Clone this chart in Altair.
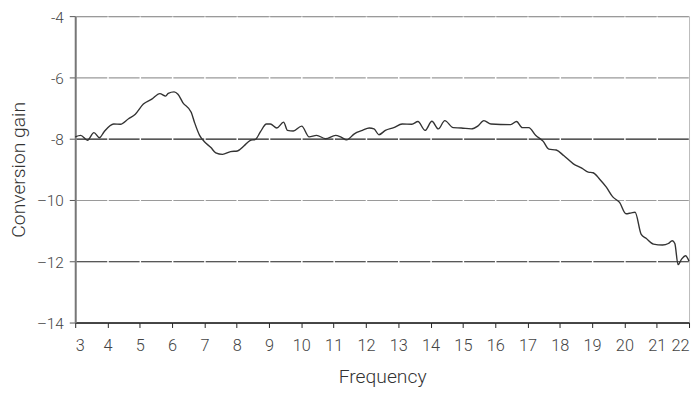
import altair as alt
import pandas as pd

freq = [3.00, 3.17, 3.38, 3.58, 3.75, 3.89, 4.19, 4.40, 4.65, 4.86, 5.11, 5.37, 5.62, 5.80,
        5.88, 6.06, 6.18, 6.33, 6.59, 6.69, 6.85, 7.00, 7.20, 7.35, 7.56, 7.81, 8.02, 8.22,
        8.41, 8.58, 8.73, 8.92, 9.04, 9.24, 9.45, 9.57, 9.75, 10.01, 10.24, 10.47, 10.75,
        11.06, 11.23, 11.40, 11.64, 11.89, 12.10, 12.25, 12.40, 12.60, 12.86, 13.12, 13.42,
        13.61, 13.83, 14.04, 14.24, 14.44, 14.70, 14.95, 15.26, 15.46, 15.65, 15.87, 16.48,
        16.66, 16.84, 17.04, 17.25, 17.48, 17.66, 17.89, 18.12, 18.42, 18.68, 18.88, 19.03,
        19.24, 19.44, 19.64, 19.85, 20.05, 20.21, 20.33, 20.52, 20.67, 20.90, 21.18, 21.36,
        21.48, 21.56, 21.66, 21.77, 21.89, 22.00]
gain = [-7.94, -7.89, -8.05, -7.80, -7.97, -7.78, -7.52, -7.53, -7.35, -7.20, -6.87, -6.71,
        -6.53, -6.61, -6.52, -6.47, -6.55, -6.82, -7.14, -7.46, -7.89, -8.10, -8.29, -8.46,
        -8.51, -8.42, -8.40, -8.24, -8.06, -8.02, -7.78, -7.52, -7.52, -7.65, -7.46, -7.73,
        -7.75, -7.59, -7.94, -7.89, -8.00, -7.89, -7.95, -8.04, -7.84, -7.73, -7.65, -7.68,
        -7.87, -7.73, -7.64, -7.52, -7.53, -7.44, -7.73, -7.43, -7.68, -7.41, -7.64, -7.65,
        -7.68, -7.59, -7.41, -7.52, -7.54, -7.44, -7.64, -7.64, -7.89, -8.08, -8.34, -8.37,
        -8.55, -8.82, -8.96, -9.09, -9.11, -9.33, -9.58, -9.90, -10.08, -10.45, -10.42,
        -10.40, -11.12, -11.25, -11.44, -11.47, -11.42, -11.33, -11.42, -12.11, -11.93,
        -11.82, -12.00]

x_ticks = list(range(3, 23))
y_ticks = [-14, -12, -10, -8, -6, -4]

df = pd.DataFrame({"Frequency": freq, "Conversion gain": gain})

W, H = 621, 310
period = W / 19
gap = 1.5
dash = period - gap
FONT = "Roboto"

chart = alt.Chart(df).mark_line(color="#333333", strokeWidth=1.4, interpolate="monotone").encode(
    x=alt.X("Frequency:Q",
            scale=alt.Scale(domain=[3, 22], nice=False, zero=False),
            axis=alt.Axis(values=x_ticks, grid=False, domainColor="#222222",
                          domainWidth=1.5, tickColor="#222222", tickSize=5,
                          labelFontSize=16.5, labelColor="#444444", labelPadding=10,
                          labelFont=FONT, labelFontWeight=300,
                          title="Frequency", titleFont=FONT, titleFontSize=19.5,
                          titleFontWeight=300, titleColor="#333333",
                          titleX=W / 2, titleY=55, titleBaseline="middle",
                          titleAlign="center")),
    y=alt.Y("Conversion gain:Q",
            scale=alt.Scale(domain=[-14, -4], nice=False, zero=False),
            axis=alt.Axis(values=y_ticks, grid=True,
                          gridColor={"condition": {"test": "datum.value == -8 || datum.value == -12",
                                                   "value": "#222222"},
                                     "value": "#9a9a9a"},
                          gridWidth=1.2, gridDash=[dash, gap], gridDashOffset=dash + gap / 2,
                          domainColor="#777777", domainWidth=2, tickColor="#555555",
                          tickSize=6,
                          labelExpr="datum.value >= -8 ? '-' + abs(datum.value) : '\u2013' + abs(datum.value)",
                          labelFontSize=15.5, labelColor="#444444", labelPadding=6,
                          labelOffset=1,
                          labelFont=FONT, labelFontWeight=300,
                          title="Conversion gain", titleFont=FONT, titleFontSize=19.5,
                          titleFontWeight=300, titleColor="#333333",
                          titleX=-57, titleY=H / 2, titleBaseline="middle",
                          titleAlign="center", titleAngle=270)),
).properties(
    width=W, height=H,
    autosize=alt.AutoSizeParams(type="none"),
    padding={"left": 68, "top": 6, "right": 3, "bottom": 65},
).configure_view(stroke="#bbbbbb", strokeWidth=1)

chart.save("out.html", embed_options={"renderer": "svg", "actions": False})
